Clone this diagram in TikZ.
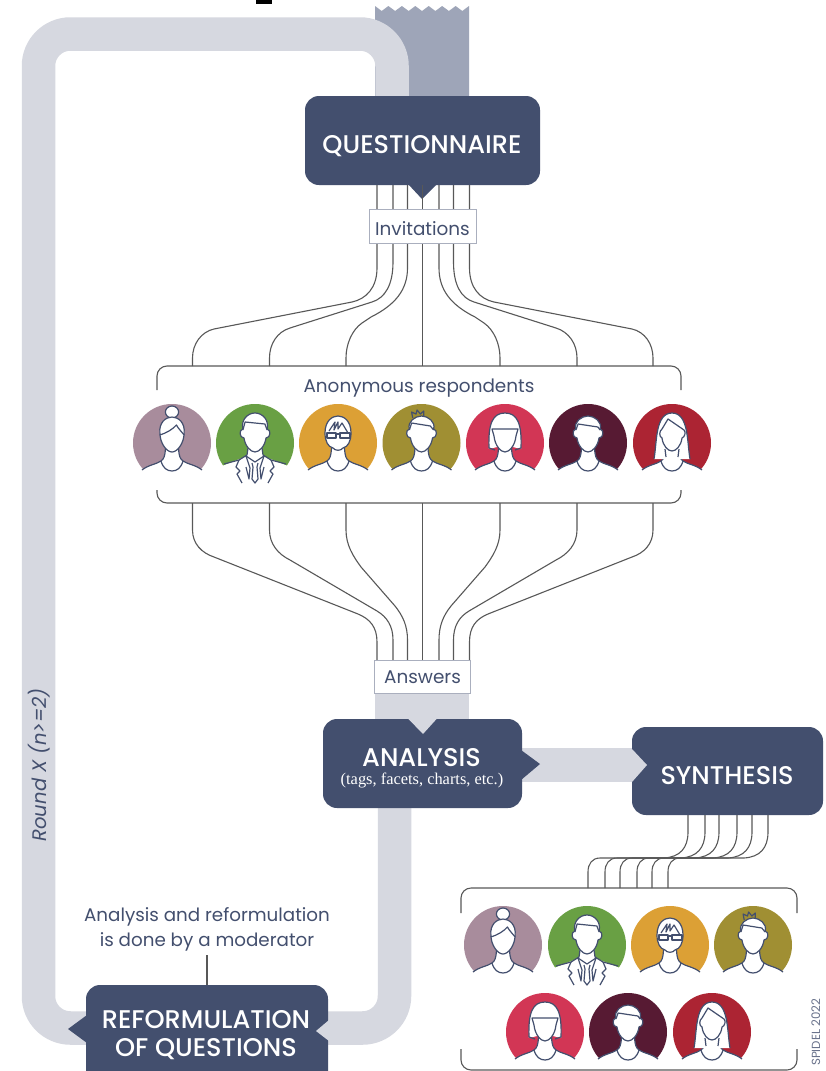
\documentclass[tikz,border=0pt]{standalone}
\usepackage{fontspec}
\setmainfont{Poppins}
\newfontfamily\titlefont{Poppins Medium}
\newfontfamily\serifsub{Liberation Serif}
\definecolor{navy}{HTML}{434F6E}
\definecolor{lightband}{HTML}{D6D8E0}
\definecolor{darkband}{HTML}{9EA5B8}
\definecolor{wire}{HTML}{585858}
\definecolor{cmauve}{HTML}{A88C9C}
\definecolor{cgreen}{HTML}{69A044}
\definecolor{cyellow}{HTML}{DCA035}
\definecolor{colive}{HTML}{A08F33}
\definecolor{cpink}{HTML}{D23655}
\definecolor{cdark}{HTML}{571A33}
\definecolor{cred}{HTML}{AC2433}
\tikzset{
  band/.style={line width=33.5pt,lightband,rounded corners=32pt},
  darkbox/.style={fill=navy,rounded corners=14pt,inner sep=0pt,text=white,align=center},
  tag/.style={fill=white,draw=lightband!70!navy,line width=1pt,inner sep=0pt,text=navy,font=\fontsize{18.4}{20}\selectfont},
  wireline/.style={draw=wire,line width=1.1pt},
  bracket/.style={draw=wire,line width=1.1pt,rounded corners=10pt},
  plain/.style={text=navy,inner sep=0pt,align=center},
  ol/.style={draw=navy,line width=1.2pt,line join=round},
  headfill/.style={fill=white,draw=navy,line width=1.2pt,line join=round},
}
% circle, white body with shoulders, collar
\newcommand\bust[1]{%
  \fill[#1] (0,0) circle[radius=39];
  \fill[white] (-31,28) .. controls (-24,22) and (-15,21) .. (-11,18) .. controls (-8,16) and (-7,13) .. (-6.5,3) -- (6.5,3) .. controls (7,13) and (8,16) .. (11,18) .. controls (15,21) and (24,22) .. (31,28) -- (31,41) -- (-31,41) -- cycle;
  \draw[ol] (-30,27) .. controls (-24,22) and (-15,21) .. (-11,18) .. controls (-8,16) and (-7,13) .. (-6.5,5);
  \draw[ol] (30,27) .. controls (24,22) and (15,21) .. (11,18) .. controls (8,16) and (7,13) .. (6.5,5);
  \draw[ol] (-11,18) .. controls (-9,25) and (-5,28) .. (0,28) .. controls (5,28) and (9,25) .. (11,18);
}
\newcommand\manhead[1]{%
  \draw[headfill] (-11,-14) .. controls (-13,#1+6) and (-6,#1) .. (0,#1) .. controls (6,#1) and (13,#1+6) .. (11,-14)
    .. controls (15,-13) and (14,-5) .. (10,-5) .. controls (9,3) and (4,9) .. (0,9) .. controls (-4,9) and (-9,3) .. (-10,-5)
    .. controls (-14,-5) and (-15,-13) .. (-11,-14) -- cycle;
}
\newcommand\avBun[2]{\begin{scope}[shift={(#1,#2)}]
  \bust{cmauve}
  \begin{scope}[xscale=1.1]
  \draw[headfill] (0,-31) circle[radius=6];
  \draw[headfill] (-11,-10) .. controls (-12,-20) and (-6,-26) .. (0,-26) .. controls (6,-26) and (12,-20) .. (11,-10) .. controls (11,0) and (5,9) .. (0,9) .. controls (-5,9) and (-11,0) .. (-11,-10) -- cycle;
  \draw[ol] (-11,-8) .. controls (-5,-10) and (1,-14) .. (4,-18) .. controls (6,-14) and (9,-11) .. (11,-8);
  \end{scope}
\end{scope}}
\newcommand\avSuit[2]{\begin{scope}[shift={(#1,#2)}]
  \fill[cgreen] (0,0) circle[radius=39];
  \fill[white] (-33,23) -- (-8,13) -- (-7,3) -- (7,3) -- (8,13) -- (33,23) -- (33,41) -- (-33,41) -- cycle;
  \draw[ol] (-31,21) -- (-16,17) -- (-8,12) -- (-7,5);
  \draw[ol] (31,21) -- (16,17) -- (8,12) -- (7,5);
  \draw[ol] (-16,17) -- (-19,24) -- (-15,28) -- (-18,31) -- (-13,40);
  \draw[ol] (16,17) -- (19,24) -- (15,28) -- (18,31) -- (13,40);
  \draw[ol] (-9,13) -- (-5,25) -- (-6,36) -- (-9,24);
  \draw[ol] (9,13) -- (5,25) -- (6,36) -- (9,24);
  \draw[ol] (-9,13) -- (0,19) -- (9,13);
  \draw[ol] (-3,20) -- (-2,24) -- (-3,36) -- (0,40) -- (3,36) -- (2,24) -- (3,20);
  \begin{scope}[xscale=1.1]
  \manhead{-30}
  \draw[ol] (-11,-13) -- (-9,-21) -- (9,-19) -- (11,-13);
  \end{scope}
\end{scope}}
\newcommand\avGlasses[2]{\begin{scope}[shift={(#1,#2)}]
  \bust{cyellow}
  \draw[headfill] (-13,-10) .. controls (-13,-22) and (-6,-27) .. (0,-27) .. controls (6,-27) and (13,-22) .. (13,-10) .. controls (13,-2) and (10,4) .. (5,5) .. controls (3,8) and (-3,8) .. (-5,5) .. controls (-10,4) and (-13,-2) .. (-13,-10) -- cycle;
  \draw[ol] (-9,-12) -- (-3,-21) -- (-4,-13) -- (0,-21) -- (0,-14) -- (4,-20) -- (10,-10);
  \draw[ol,fill=white] (-11,-10) rectangle (-2,-5);
  \draw[ol,fill=white] (2,-10) rectangle (12,-5);
  \draw[ol] (-2,-9) -- (2,-9);
\end{scope}}
\newcommand\avSpiky[2]{\begin{scope}[shift={(#1,#2)}]
  \bust{colive}
  \begin{scope}[xscale=1.1]
  \manhead{-27}
  \draw[ol] (-11,-13) -- (-9,-20) -- (8,-17) -- (11,-13);
  \draw[ol] (-8,-25) -- (-9,-31) -- (-5,-29) -- (-4,-33) -- (-1,-29) -- (2,-32) -- (2,-27);
  \end{scope}
\end{scope}}
\newcommand\avBob[2]{\begin{scope}[shift={(#1,#2)}]
  \bust{cpink}
  \fill[white] (-16,6) .. controls (-17,-20) and (-12,-30) .. (0,-30) .. controls (12,-30) and (17,-20) .. (16,6) -- (8,4) -- (-8,4) -- cycle;
  \draw[ol] (-16,5) .. controls (-17,-20) and (-12,-30) .. (0,-30) .. controls (12,-30) and (17,-20) .. (16,5) -- (10,7);
  \draw[ol] (-16,5) -- (-10,7);
  \draw[headfill] (-13,-14) -- (13,-14) -- (11,-7) .. controls (10,3) and (4,9) .. (0,9) .. controls (-4,9) and (-10,3) .. (-11,-7) -- cycle;
\end{scope}}
\newcommand\avMan[2]{\begin{scope}[shift={(#1,#2)}]
  \bust{cdark}
  \begin{scope}[xscale=1.1]
  \manhead{-27}
  \draw[ol] (-11,-13) -- (-9,-19) -- (9,-16) -- (11,-13);
  \end{scope}
\end{scope}}
\newcommand\avLong[2]{\begin{scope}[shift={(#1,#2)}]
  \bust{cred}
  \fill[white] (-18,16) .. controls (-15,0) and (-17,-30) .. (0,-30) .. controls (17,-30) and (15,0) .. (18,16) -- cycle;
  \draw[ol] (-18,16) .. controls (-15,0) and (-17,-30) .. (0,-30) .. controls (17,-30) and (15,0) .. (18,16);
  \draw[ol] (-6,14) -- (-7,6);
  \draw[ol] (6,14) -- (7,6);
  \draw[headfill] (-4,-24) -- (12,-13) .. controls (14,-11) and (13,-6) .. (10,-5) .. controls (9,3) and (4,8) .. (0,8) .. controls (-4,8) and (-9,3) .. (-10,-5) .. controls (-13,-6) and (-13,-12) .. (-10,-14) -- cycle;
\end{scope}}
\begin{document}
\begin{tikzpicture}[x=1pt,y=-1pt]
\path[use as bounding box,clip] (0,0) rectangle (825,1071);
\fill[white] (0,0) rectangle (825,1071);
% top artefact
\fill[black] (256,0) rectangle (272,4);
% dark torn band
\fill[darkband] (375,100) -- (375,6) -- (381.7,11) -- (388.4,6) -- (395.1,11) -- (401.9,6) -- (408.6,11) -- (415.3,6) -- (422,11) -- (428.7,6) -- (435.4,11) -- (442.1,6) -- (448.9,11) -- (455.6,6) -- (462.3,11) -- (469,6) -- (469,100) -- cycle;
% light bands
\draw[band] (392,110) -- (392,34) -- (38.5,34) -- (38.5,1028) -- (100,1028);
\draw[band] (394.5,790) -- (394.5,1028) -- (320,1028);
\fill[lightband] (375,680) rectangle (469,730);
\fill[lightband] (510,748) rectangle (640,782);
% boxes
\node[darkbox,minimum width=235pt,minimum height=89pt] (qbox) at (422.5,140.5) {};
\node[inner sep=0pt,text=white] (qtitle) at (422,146) {\titlefont\fontsize{25.6}{28}\selectfont QUESTIONNAIRE};
\fill[navy] (408,184) -- (422,199) -- (437,184) -- cycle;
\node[darkbox,minimum width=199pt,minimum height=89pt] (abox) at (422.5,763.5) {};
\fill[lightband] (408,718.5) -- (423,734) -- (437,718.5) -- cycle;
\fill[navy] (521,750) -- (540,764) -- (521,780) -- cycle;
\node[inner sep=0pt,text=white] (atitle) at (421.5,758) {\titlefont\fontsize{25.6}{28}\selectfont ANALYSIS};
\node[inner sep=0pt,text=white] (asub) at (422,780) {\serifsub\fontsize{16.4}{18}\selectfont (tags, facets, charts, etc.)};
\node[darkbox,minimum width=191pt,minimum height=88pt] (sbox) at (727.5,771) {};
\node[inner sep=0pt,text=white] (stitle) at (727,776) {\titlefont\fontsize{25.6}{28}\selectfont SYNTHESIS};
\fill[lightband] (632,749) -- (647,765) -- (632,782) -- cycle;
\node[darkbox,minimum width=242pt,minimum height=100pt] (rbox) at (207,1035) {};
\node[inner sep=0pt,text=white] (rt1) at (206,1020) {\titlefont\fontsize{25.6}{28}\selectfont REFORMULATION};
\node[inner sep=0pt,text=white] (rt2) at (206,1049) {\titlefont\fontsize{25.6}{28}\selectfont OF QUESTIONS};
\fill[navy] (87,1015) -- (68,1029) -- (87,1043) -- cycle;
\fill[lightband] (329,1020) -- (316,1031) -- (329,1041) -- cycle;
% named wire ends
\foreach \n/\x in {1/377,2/393,3/407.5,4/422.5,5/439,6/453.5,7/469.5}{
  \coordinate (q\n) at (\x,185);
  \coordinate (an\n) at (\x,660);
}
\foreach \n/\x in {1/192.5,2/269.5,3/346,4/422.5,5/500,6/577,7/653}{
  \coordinate (rt\n) at (\x,366);
  \coordinate (rb\n) at (\x,503);
}
% invitation wires
\draw[wireline] (q1) -- (377,268) .. controls (377,288) and (366,299) .. (352,302) -- (214,329) .. controls (201,332) and (192.5,344) .. (192.5,358) -- (rt1);
\draw[wireline] (q2) -- (393,262) .. controls (393,285) and (385,298) .. (372,302) -- (290,328) .. controls (277,332) and (269.5,344) .. (269.5,358) -- (rt2);
\draw[wireline] (q3) -- (407.5,268) .. controls (407.5,290) and (395,305) .. (371,317) -- (362,323) .. controls (352,330) and (346,344) .. (346,358) -- (rt3);
\draw[wireline] (q4) -- (rt4);
\draw[wireline] (q5) -- (439,268) .. controls (439,290) and (451,305) .. (475,317) -- (484,323) .. controls (494,330) and (500,344) .. (500,358) -- (rt5);
\draw[wireline] (q6) -- (453.5,262) .. controls (453.5,285) and (461,298) .. (474,302) -- (556,328) .. controls (569,332) and (577,344) .. (577,358) -- (rt6);
\draw[wireline] (q7) -- (469.5,268) .. controls (469.5,288) and (480,299) .. (494,302) -- (632,329) .. controls (645,332) and (653,344) .. (653,358) -- (rt7);
% answer wires
\draw[wireline] (rb1) -- (192.5,530) .. controls (192.5,544) and (202,553) .. (214,557) -- (358,614) .. controls (370,619) and (377,627) .. (377,642) -- (an1);
\draw[wireline] (rb2) -- (269.5,530) .. controls (269.5,544) and (278,554) .. (290,560) -- (377,611) .. controls (387,617) and (393,626) .. (393,640) -- (an2);
\draw[wireline] (rb3) -- (346,530) .. controls (346,545) and (353,556) .. (361,567) -- (395,606) .. controls (403,616) and (407.5,626) .. (407.5,640) -- (an3);
\draw[wireline] (rb4) -- (an4);
\draw[wireline] (rb5) -- (500,530) .. controls (500,545) and (493,556) .. (485,567) -- (451,606) .. controls (443,616) and (439,626) .. (439,640) -- (an5);
\draw[wireline] (rb6) -- (577,530) .. controls (577,544) and (568,554) .. (556,560) -- (469,611) .. controls (459,617) and (453.5,626) .. (453.5,640) -- (an6);
\draw[wireline] (rb7) -- (653,530) .. controls (653,544) and (644,553) .. (632,557) -- (488,614) .. controls (476,619) and (469.5,627) .. (469.5,642) -- (an7);
% tags
\node[tag,minimum width=107pt,minimum height=34pt] (inv) at (422.5,226) {};
\node[plain,font=\fontsize{18.4}{20}\selectfont] (invt) at (422.5,229) {Invitations};
\node[tag,minimum width=96pt,minimum height=33pt] (ans) at (422,676.5) {};
\node[plain,font=\fontsize{18.4}{20}\selectfont] (anst) at (422.5,677.5) {Answers};
% respondents bracket
\draw[bracket] (157,390) -- (157,366) -- (681,366) -- (681,390);
\draw[bracket] (157,490) -- (157,503) -- (681,503) -- (681,490);
\node[plain,font=\fontsize{18.4}{20}\selectfont] (anon) at (419,388) {Anonymous respondents};
\avBun{172}{443}\avSuit{255}{443}\avGlasses{338}{443}\avSpiky{421.5}{443}\avBob{505}{443}\avMan{588}{443}\avLong{672}{443}
% synthesis wires
\foreach \n/\x in {1/688,2/705,3/719,4/737,5/752,6/768}{\coordinate (s\n) at (\x,815);}
\foreach \n/\x in {1/588,2/605,3/620,4/637,5/652,6/668}{\coordinate (g\n) at (\x,888);}
\draw[wireline] (s1) -- (688,832) .. controls (688,848) and (680,857) .. (664,858) -- (600,858) .. controls (592,858) and (588,864) .. (588,872) -- (g1);
\draw[wireline] (s2) -- (705,832) .. controls (705,848) and (697,857) .. (681,858) -- (617,858) .. controls (609,858) and (605,864) .. (605,872) -- (g2);
\draw[wireline] (s3) -- (719,832) .. controls (719,848) and (711,857) .. (695,858) -- (632,858) .. controls (624,858) and (620,864) .. (620,872) -- (g3);
\draw[wireline] (s4) -- (737,832) .. controls (737,848) and (729,857) .. (713,858) -- (649,858) .. controls (641,858) and (637,864) .. (637,872) -- (g4);
\draw[wireline] (s5) -- (752,832) .. controls (752,848) and (744,857) .. (728,858) -- (664,858) .. controls (656,858) and (652,864) .. (652,872) -- (g5);
\draw[wireline] (s6) -- (768,832) .. controls (768,848) and (760,857) .. (744,858) -- (680,858) .. controls (672,858) and (668,864) .. (668,872) -- (g6);
% recipients
\avBun{503}{945}\avSuit{587}{945}\avGlasses{670}{945}\avSpiky{753}{945}
\avBob{545}{1032}\avMan{628}{1032}\avLong{712}{1032}
\draw[bracket] (461,913) -- (461,888) -- (797,888) -- (797,913);
\draw[bracket] (461,1049) -- (461,1070) -- (797,1070) -- (797,1049);
% labels
\node[plain,rotate=90,font=\itshape\fontsize{19.6}{21}\selectfont] (round) at (39,765) {Round X (n>=2)};
\node[plain,font=\fontsize{18.3}{25}\selectfont] (note) at (207,929) {Analysis and reformulation\\is done by a moderator};
\coordinate (noteEnd) at (207,955);
\draw[wireline] (noteEnd) -- (rbox.north -| noteEnd);
\node[plain,rotate=90,anchor=base west,font=\fontsize{11.8}{13}\selectfont,text=navy!80] (credit) at (820,1066) {SPIDEL 2022};
\end{tikzpicture}
\end{document}
